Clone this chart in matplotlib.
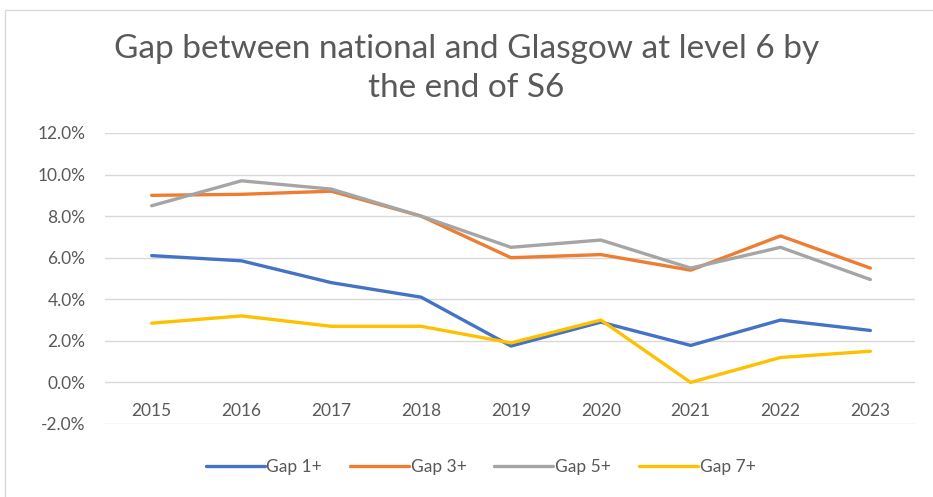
import matplotlib.pyplot as plt
from matplotlib.patches import Rectangle
from matplotlib.ticker import FuncFormatter

years = [2015, 2016, 2017, 2018, 2019, 2020, 2021, 2022, 2023]
gap_1 = [6.1, 5.85, 4.8, 4.1, 1.75, 2.9, 1.78, 3.0, 2.5]
gap_3 = [9.0, 9.05, 9.2, 8.0, 6.0, 6.15, 5.4, 7.05, 5.5]
gap_5 = [8.5, 9.7, 9.3, 8.0, 6.5, 6.85, 5.5, 6.5, 4.95]
gap_7 = [2.85, 3.2, 2.7, 2.7, 1.9, 3.0, 0.0, 1.2, 1.5]
series_names = ["Gap 1+", "Gap 3+", "Gap 5+", "Gap 7+"]
colors = ["#4472C4", "#ED7D31", "#A5A5A5", "#FFC000"]

plt.rcParams['font.family'] = ['Lato', 'DejaVu Sans']
text_col = "#595959"

fig = plt.figure(figsize=(9.33, 4.97), dpi=100)
ax = fig.add_axes([0.1125, 0.1469, 0.8685, 0.5855])

for vals, name, c in zip([gap_1, gap_3, gap_5, gap_7], series_names, colors):
    ax.plot(years, vals, color=c, linewidth=2.4, label=name, solid_capstyle='round')

ax.set_xlim(2014.48, 2023.5)
ax.set_ylim(-2, 12)
ax.set_yticks(range(-2, 13, 2))
ax.yaxis.set_major_formatter(FuncFormatter(lambda v, p: f"{v:.1f}%"))
ax.set_xticks(years)
ax.grid(axis='y', color="#D9D9D9", linewidth=1)
ax.set_axisbelow(True)

for s in ['top', 'right', 'left']:
    ax.spines[s].set_visible(False)
# category labels sit just under the zero line
ax.spines['bottom'].set_position(('data', 0))
ax.spines['bottom'].set_visible(False)
ax.tick_params(axis='both', length=0, colors=text_col, labelsize=12.5)
ax.tick_params(axis='x', pad=15)
ax.tick_params(axis='y', pad=14)

fig.text(0.5, 0.862, "Gap between national and Glasgow at level 6 by\nthe end of S6",
         ha='center', va='center', fontsize=24, color=text_col, linespacing=1.35)

fig.legend(loc='center', bbox_to_anchor=(0.515, 0.06), ncol=4, frameon=False,
           fontsize=12.5, labelcolor=text_col, handlelength=3.4, handletextpad=0.1,
           columnspacing=1.6)

fig.patches.append(Rectangle((0.005, -0.01), 1.0, 0.99, transform=fig.transFigure,
                             fill=False, edgecolor="#D9D9D9", linewidth=1))

fig.savefig("out.png", dpi=100)
